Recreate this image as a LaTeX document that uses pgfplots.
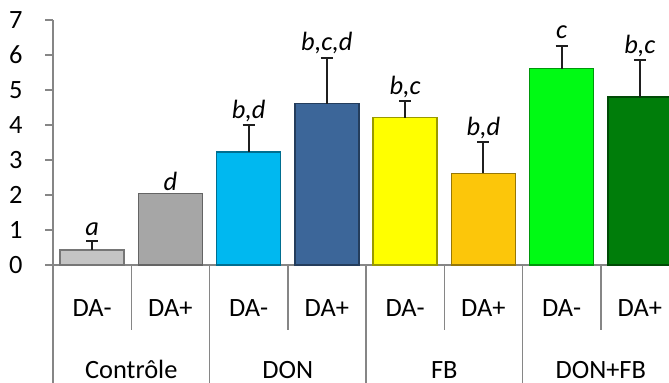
\documentclass[border=0pt]{standalone}
\usepackage{pgfplots}
\pgfplotsset{compat=1.18}
\usepackage{fontspec}
\setmainfont{Carlito}
\definecolor{axisgray}{HTML}{868686}
\definecolor{cA}{HTML}{C4C4C4}
\definecolor{cB}{HTML}{A6A6A6}
\definecolor{cC}{HTML}{00B8F0}
\definecolor{cD}{HTML}{3C6699}
\definecolor{cE}{HTML}{FFFF00}
\definecolor{cF}{HTML}{FCC60A}
\definecolor{cG}{HTML}{00FA14}
\definecolor{cH}{HTML}{007D0A}
\newcommand{\lbl}{\fontsize{26.5}{30}\selectfont}
\pgfplotsset{
  plainbar/.style={fill=#1, draw=#1!60!black, line width=1.5bp, bar shift=0pt},
  mybar/.style={plainbar=#1,
    error bars/.cd, y dir=plus, y explicit, error mark=|,
    error bar style={line width=2.2bp, black!88},
    error mark options={mark size=6bp, line width=2.2bp, black!88}},
}
\begin{document}
\begin{tikzpicture}
\useasboundingbox (0,0) rectangle (669bp,383bp);
\clip (0,0) rectangle (669bp,383bp);
\begin{axis}[
  at={(53bp,118bp)}, anchor=south west,
  scale only axis, width=626bp, height=245bp,
  xmin=-0.5, xmax=7.5, ymin=0, ymax=7,
  ybar, bar width=0.82,
  axis x line*=bottom, axis y line*=left,
  axis line style={draw=axisgray, line width=1.5bp, -},
  xtick=\empty,
  ytick={0,1,2,3,4,5,6,7},
  major tick length=8bp, tick align=outside,
  ytick style={draw=axisgray, line width=1.5bp},
  yticklabel style={font=\lbl, /pgf/number format/assume math mode=true, xshift=-19bp},
  clip=false,
]
\addplot[mybar=cA] coordinates {(0,0.43) +- (0,0.25)};
\addplot[plainbar=cB] coordinates {(1,2.05)};
\addplot[mybar=cC] coordinates {(2,3.23) +- (0,0.76)};
\addplot[mybar=cD] coordinates {(3,4.61) +- (0,1.31)};
\addplot[mybar=cE] coordinates {(4,4.21) +- (0,0.47)};
\addplot[mybar=cF] coordinates {(5,2.62) +- (0,0.89)};
\addplot[mybar=cG] coordinates {(6,5.61) +- (0,0.65)};
\addplot[mybar=cH] coordinates {(7,4.80) +- (0,1.05)};
% y tick marks
\pgfplotsinvokeforeach{0,1,2,3,4,5,6,7}{
  \draw[axisgray, line width=1.5bp] (axis cs:-0.5,#1) -- ([xshift=-8bp]axis cs:-0.5,#1);
}
% significance letters
\node[font=\lbl\itshape, anchor=base, yshift=6bp] at (axis cs:0,0.68) {a};
\node[font=\lbl\itshape, anchor=base, yshift=3bp] at (axis cs:1,2.05) {d};
\node[font=\lbl\itshape, anchor=base, yshift=7bp] at (axis cs:2,3.99) {b,d};
\node[font=\lbl\itshape, anchor=base, yshift=7bp] at (axis cs:3,5.92) {b,c,d};
\node[font=\lbl\itshape, anchor=base, yshift=7bp] at (axis cs:4,4.68) {b,c};
\node[font=\lbl\itshape, anchor=base, yshift=7bp] at (axis cs:5,3.51) {b,d};
\node[font=\lbl\itshape, anchor=base, yshift=7bp] at (axis cs:6,6.26) {c};
\node[font=\lbl\itshape, anchor=base, yshift=7bp] at (axis cs:7,5.85) {b,c};
% category separators
\pgfplotsinvokeforeach{0.5,2.5,4.5,6.5}{
  \draw[axisgray, line width=1.5bp] (axis cs:#1,0) -- ([yshift=-65bp]axis cs:#1,0);
}
\pgfplotsinvokeforeach{-0.5,1.5,3.5,5.5,7.5}{
  \draw[axisgray, line width=1.5bp] (axis cs:#1,0) -- ([yshift=-130bp]axis cs:#1,0);
}
% sub labels
\pgfplotsinvokeforeach{0,2,4,6}{
  \node[font=\lbl, anchor=base, yshift=-51bp] at (axis cs:#1,0) {DA-};
}
\pgfplotsinvokeforeach{1,3,5,7}{
  \node[font=\lbl, anchor=base, yshift=-51bp] at (axis cs:#1,0) {DA+};
}
% group labels
\node[font=\lbl, anchor=base, yshift=-113bp] at (axis cs:0.5,0) {Contrôle};
\node[font=\lbl, anchor=base, yshift=-113bp] at (axis cs:2.5,0) {DON};
\node[font=\lbl, anchor=base, yshift=-113bp] at (axis cs:4.5,0) {FB};
\node[font=\lbl, anchor=base, yshift=-113bp] at (axis cs:6.5,0) {DON+FB};
\end{axis}
\end{tikzpicture}
\end{document}
